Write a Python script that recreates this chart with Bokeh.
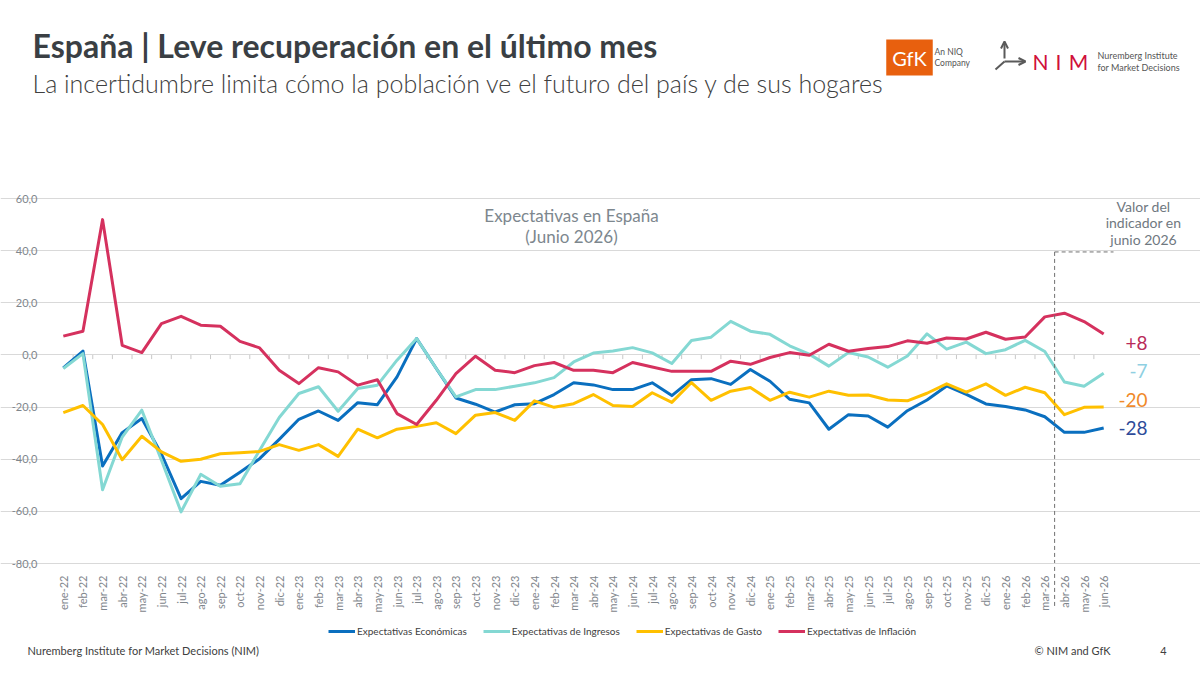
import math

from bokeh.embed import file_html
from bokeh.models import (Arrow, FixedTicker, Grid, Label, Legend, LegendItem,
                          LinearAxis, OpenHead, Range1d)
from bokeh.plotting import figure
from bokeh.resources import INLINE

# ---------------------------------------------------------------- data
MONTH_ABBR = ["ene", "feb", "mar", "abr", "may", "jun",
              "jul", "ago", "sep", "oct", "nov", "dic"]
months = [f"{m}-{y}" for y in ("22", "23", "24", "25", "26") for m in MONTH_ABBR][:54]

economicas = [
    -5.0, 1.5, -42.6, -29.8, -24.4, -38.0, -55.1, -48.5, -50.0, -45.0, -39.8, -32.4,
    -24.7, -21.5, -25.1, -18.3, -19.1, -8.4, 6.3, -5.2, -16.5, -18.9, -21.9, -19.1,
    -18.7, -15.2, -10.7, -11.5, -13.3, -13.3, -10.7, -15.6, -9.5, -9.1, -11.3, -5.6,
    -10.1, -17.0, -18.4, -28.5, -22.9, -23.4, -27.7, -21.4, -17.3, -11.9, -15.1, -18.8,
    -19.8, -21.1, -23.7, -29.7, -29.7, -28.0,
]
ingresos = [
    -5.2, 0.5, -51.7, -31.5, -21.2, -40.4, -60.2, -45.8, -50.4, -49.4, -36.6, -24.0,
    -14.8, -12.2, -21.6, -12.9, -11.6, -2.0, 6.3, -5.2, -16.1, -13.3, -13.3, -12.0,
    -10.7, -8.7, -2.7, 0.7, 1.5, 2.8, 0.8, -3.3, 5.5, 6.8, 12.9, 9.1,
    7.9, 3.5, 0.3, -4.3, 0.9, -0.8, -4.7, -0.4, 8.1, 2.2, 4.9, 0.5,
    2.0, 5.6, 1.3, -10.4, -12.0, -7.0,
]
gasto = [
    -22.1, -19.4, -26.7, -40.2, -31.2, -37.2, -40.8, -40.0, -37.9, -37.5, -37.0, -34.4,
    -36.6, -34.4, -38.9, -28.5, -31.8, -28.5, -27.4, -26.0, -30.2, -23.1, -22.1, -25.1,
    -17.6, -20.1, -18.7, -15.2, -19.4, -19.8, -14.5, -18.2, -10.6, -17.4, -13.9, -12.5,
    -17.4, -14.3, -16.2, -13.9, -15.5, -15.4, -17.3, -17.6, -14.7, -11.1, -14.3, -11.1,
    -15.5, -12.4, -14.5, -22.9, -20.1, -20.0,
]
inflacion = [
    7.2, 9.1, 51.9, 3.7, 0.9, 12.0, 14.8, 11.4, 11.0, 5.2, 2.7, -5.9,
    -11.0, -4.9, -6.5, -11.6, -9.5, -22.5, -26.7, -17.4, -7.2, -0.5, -5.9, -6.8,
    -4.1, -2.9, -5.9, -5.9, -6.8, -2.9, -4.6, -6.3, -6.3, -6.3, -2.4, -3.6,
    -1.0, 0.9, -0.1, 4.1, 1.4, 2.5, 3.2, 5.4, 4.5, 6.5, 6.1, 8.7,
    6.0, 6.9, 14.6, 16.0, 12.8, 8.0,
]

series_names = ["Expectativas Económicas", "Expectativas de Ingresos",
                "Expectativas de Gasto", "Expectativas de Inflación"]
series_values = [economicas, ingresos, gasto, inflacion]
series_colors = ["#0a6fbf", "#84d8d3", "#ffc000", "#d5315e"]
end_label_colors = ["#2e4b99", "#8fd0e2", "#f08a2a", "#b92a5a"]

y_ticks = [-80, -60, -40, -20, 0, 20, 40, 60]
highlight_start = "abr-26"
highlight_top = 39.5

# ---------------------------------------------------------------- layout
W, H = 1200, 675
# pixel box of the plotting area on the page
AREA_L, AREA_R, AREA_T, AREA_B = 53, 1113, 198, 563
FONT = "Lato"
GREY = "#7f868c"
GRID = "#d9d9d9"

n = len(months)
x_idx = list(range(n))
px_x = (AREA_R - AREA_L) / n
px_y = (AREA_B - AREA_T) / (y_ticks[-1] - y_ticks[0])
x_lo = -0.5 - AREA_L / px_x
y_hi = y_ticks[-1] + AREA_T / px_y

p = figure(
    width=W, height=H,
    x_range=Range1d(x_lo, x_lo + W / px_x),
    y_range=Range1d(y_hi - H / px_y, y_hi),
    x_axis_location=None, y_axis_location=None,
    output_backend="svg", toolbar_location=None,
    min_border=0, background_fill_color="white", border_fill_color="white",
)
p.outline_line_color = None
p.grid.visible = False

y_ticker = FixedTicker(ticks=y_ticks)
x_ticker = FixedTicker(ticks=x_idx)

p.add_layout(Grid(dimension=1, ticker=y_ticker, bounds=(-0.5, n - 0.5),
                  grid_line_color=GRID, grid_line_width=1))

yaxis = LinearAxis(ticker=y_ticker, fixed_location=-0.5,
                   major_label_overrides={t: f"{t:.1f}".replace(".", ",") for t in y_ticks},
                   axis_line_color=None, major_tick_line_color=None,
                   minor_tick_line_color=None, major_label_standoff=10,
                   major_label_text_font=FONT, major_label_text_font_size="11px",
                   major_label_text_color=GREY)
p.add_layout(yaxis, "left")

xaxis = LinearAxis(ticker=x_ticker, fixed_location=y_ticks[0], bounds=(-0.5, n - 0.5),
                   major_label_overrides={i: m for i, m in enumerate(months)},
                   axis_line_color=GRID, major_tick_line_color=None,
                   minor_tick_line_color=None, major_label_standoff=6,
                   major_label_orientation=math.pi / 2,
                   major_label_text_font=FONT, major_label_text_font_size="11px",
                   major_label_text_color=GREY)
p.add_layout(xaxis, "below")

# small category separators on the zero line
bounds = [i + 0.5 for i in range(n - 1)]
p.segment(x0=bounds, y0=[0] * len(bounds), x1=bounds, y1=[-1.6] * len(bounds),
          line_color="#c8c8c8", line_width=1)

renderers = []
for vals, col in zip(series_values, series_colors):
    renderers.append(p.line(x=x_idx, y=vals, line_color=col, line_width=3,
                            line_join="round"))

legend = Legend(
    items=[LegendItem(label=nm, renderers=[r]) for nm, r in zip(series_names, renderers)],
    orientation="horizontal", location=(328, H - 641),
    padding=0, margin=0, spacing=16, label_standoff=2,
    glyph_width=27, glyph_height=20,
    border_line_color=None, background_fill_alpha=0,
    label_text_font=FONT, label_text_font_size="10px", label_text_color="#404040",
)
p.add_layout(legend)

# highlighted last-quarter box
hx = months.index(highlight_start) - 0.5
p.segment(x0=[hx, hx], y0=[highlight_top, highlight_top],
          x1=[hx, n - 0.5], y1=[-96.5, highlight_top],
          line_color="#707070", line_width=1, line_dash="4 3")


def put(text, cx, cy, size, color, align="left", style="normal", font=FONT, **kw):
    """Place a text annotation at page pixel position (cx, cy)."""
    lab = Label(x=cx, y=H - cy, x_units="screen", y_units="screen",
                text=text, text_font=font, text_font_size=f"{size}px",
                text_color=color, text_align=align, text_baseline="middle",
                text_font_style=style, **kw)
    p.add_layout(lab)
    return lab


# titles
put("España | Leve recuperación en el último mes", 32, 45, 32, "#3a3f44", style="bold")
put("La incertidumbre limita cómo la población ve el futuro del país y de sus hogares",
    32, 82, 25, "#404040", font="Lato Light")

# chart heading
put("Expectativas en España", 571, 215, 17, "#7d878e", align="center")
put("(Junio 2026)", 571, 236, 17, "#7d878e", align="center")

# end-of-period panel
put("Valor del", 1143, 206, 14, "#6f787f", align="center")
put("indicador en", 1143, 222, 14, "#6f787f", align="center")
put("junio 2026", 1143, 239, 14, "#6f787f", align="center")

end_rows = [(3, 342), (1, 370), (2, 399), (0, 427)]
for idx, cy in end_rows:
    last = series_values[idx][-1]
    put(f"{last:+.0f}", 1147, cy, 19, end_label_colors[idx], align="right")

# footer
put("Nuremberg Institute for Market Decisions (NIM)", 27, 650, 11, "#404040")
put("© NIM and GfK", 1110, 650, 11, "#404040", align="right")
put("4", 1163, 650, 11, "#404040", align="center")

# logos
put("GfK", 909, 57, 20, "white", align="center",
    background_fill_color="#e8600e", padding=6)
put("An NIQ", 934, 51, 8.5, "#555555")
put("Company", 934, 62, 8.5, "#555555")

icon = dict(line_color="#5a5a5a", line_width=2, start_units="screen", end_units="screen")
head = dict(size=7, line_color="#5a5a5a", line_width=2)
p.add_layout(Arrow(x_start=1004, y_start=H - 58, x_end=1004, y_end=H - 41,
                   end=OpenHead(**head), **icon))
p.add_layout(Arrow(x_start=995, y_start=H - 69, x_end=1004, y_end=H - 61, end=None, **icon))
p.add_layout(Arrow(x_start=1004, y_start=H - 61, x_end=1025, y_end=H - 61,
                   end=OpenHead(**head), **icon))
for ch, cx in (("N", 1040), ("I", 1058), ("M", 1078)):
    put(ch, cx, 61, 21, "#d0103a", align="center")
put("Nuremberg Institute", 1097, 55, 9, "#555555")
put("for Market Decisions", 1097, 67, 9, "#555555")

open("out.html", "w").write(file_html(p, INLINE))
